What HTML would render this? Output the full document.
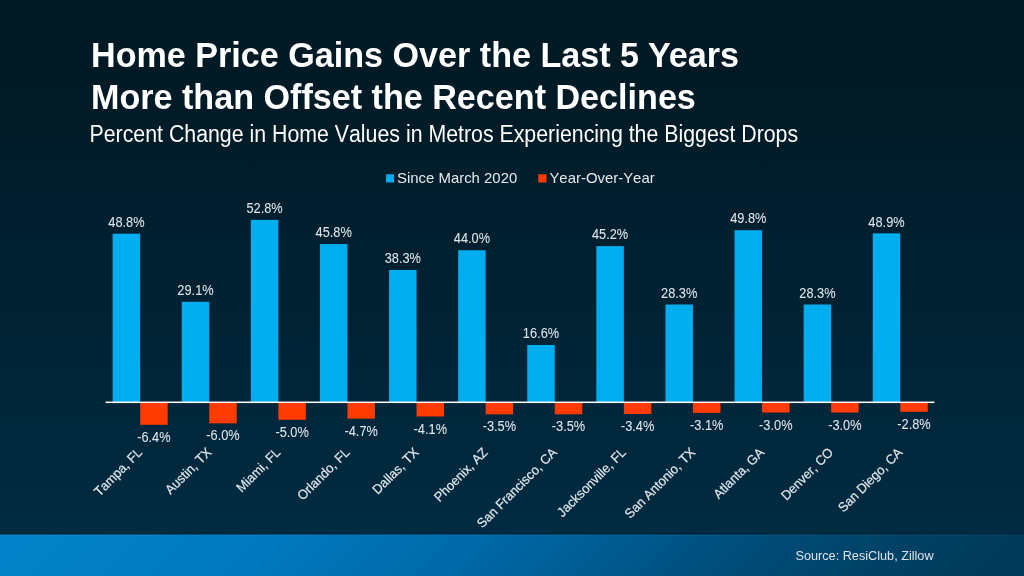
<!DOCTYPE html>
<html><head><meta charset="utf-8">
<style>
html,body{margin:0;padding:0;}
body{width:1024px;height:576px;overflow:hidden;position:relative;
background:linear-gradient(180deg,#011923 0px,#001c28 140px,#001e2d 185px,#002030 270px,#00263a 400px,#002b41 533px);
font-family:"Liberation Sans",sans-serif;font-kerning:none;}
svg{position:absolute;left:0;top:0;will-change:transform;}
.t{font-weight:bold;font-size:34.13px;fill:#fff;font-kerning:normal;}
.st{font-size:21.33px;fill:#fff;}
.lg{font-size:14.93px;fill:#e6e9ec;}
.dl{font-size:12.8px;fill:#dfe4ea;text-anchor:middle;stroke:#dfe4ea;stroke-width:0.05px;}
.cat{font-size:12.8px;fill:#dfe4ea;text-anchor:end;stroke:#dfe4ea;stroke-width:0.2px;}
.src{font-size:12.7px;fill:#dde3ea;text-anchor:end;}
</style></head><body>
<svg width="1024" height="576" viewBox="0 0 1024 576">
<defs>
<linearGradient id="band" gradientUnits="userSpaceOnUse" x1="0" y1="534" x2="533" y2="1067">
<stop offset="0.039" stop-color="#0282c8"/>
<stop offset="0.255" stop-color="#0079bf"/>
<stop offset="0.49" stop-color="#0066a3"/>
<stop offset="0.724" stop-color="#004b77"/>
<stop offset="0.959" stop-color="#003a58"/>
</linearGradient>
</defs>
<rect x="0" y="533" width="1024" height="1.5" fill="#00243a"/>
<rect x="0" y="534.5" width="1024" height="41.5" fill="url(#band)"/>
<rect x="0" y="535" width="1024" height="1" fill="#ffffff" fill-opacity="0.035"/>
<text class="t" transform="translate(91.00 66.80) scale(1 1.05)">Home Price Gains Over the Last 5 Years</text>
<text class="t" transform="translate(91.00 108.90) scale(1 1.05)">More than Offset the Recent Declines</text>
<text class="st" transform="translate(89.50 142.10) scale(1 1.08)">Percent Change in Home Values in Metros Experiencing the Biggest Drops</text>
<rect x="386" y="174.3" width="8" height="8.2" fill="#00adee"/>
<text class="lg" transform="translate(397.00 183.00) scale(1 1.04)">Since March 2020</text>
<rect x="538.3" y="174.3" width="8.2" height="8.2" fill="#ff3b00"/>
<text class="lg" transform="translate(549.40 183.00) scale(1 1.04)">Year-Over-Year</text>
<rect x="112.65" y="233.70" width="27.50" height="168.60" fill="#00adee"/>
<rect x="140.15" y="402.30" width="27.50" height="22.50" fill="#ff3b00"/>
<text class="dl" transform="translate(126.40 226.90) scale(1 1.09)">48.8%</text>
<text class="dl" transform="translate(153.90 441.80) scale(1 1.09)">-6.4%</text>
<text class="cat" transform="translate(143.15 453.30) rotate(-45) scale(1 1.04)">Tampa, FL</text>
<rect x="181.75" y="301.76" width="27.50" height="100.54" fill="#00adee"/>
<rect x="209.25" y="402.30" width="27.50" height="21.06" fill="#ff3b00"/>
<text class="dl" transform="translate(195.50 294.96) scale(1 1.09)">29.1%</text>
<text class="dl" transform="translate(223.00 440.36) scale(1 1.09)">-6.0%</text>
<text class="cat" transform="translate(212.25 453.30) rotate(-45) scale(1 1.04)">Austin, TX</text>
<rect x="250.85" y="219.88" width="27.50" height="182.42" fill="#00adee"/>
<rect x="278.35" y="402.30" width="27.50" height="17.45" fill="#ff3b00"/>
<text class="dl" transform="translate(264.60 213.08) scale(1 1.09)">52.8%</text>
<text class="dl" transform="translate(292.10 436.75) scale(1 1.09)">-5.0%</text>
<text class="cat" transform="translate(281.35 453.30) rotate(-45) scale(1 1.04)">Miami, FL</text>
<rect x="319.95" y="244.06" width="27.50" height="158.24" fill="#00adee"/>
<rect x="347.45" y="402.30" width="27.50" height="16.37" fill="#ff3b00"/>
<text class="dl" transform="translate(333.70 237.26) scale(1 1.09)">45.8%</text>
<text class="dl" transform="translate(361.20 435.67) scale(1 1.09)">-4.7%</text>
<text class="cat" transform="translate(350.45 453.30) rotate(-45) scale(1 1.04)">Orlando, FL</text>
<rect x="389.05" y="269.97" width="27.50" height="132.33" fill="#00adee"/>
<rect x="416.55" y="402.30" width="27.50" height="14.20" fill="#ff3b00"/>
<text class="dl" transform="translate(402.80 263.17) scale(1 1.09)">38.3%</text>
<text class="dl" transform="translate(430.30 433.50) scale(1 1.09)">-4.1%</text>
<text class="cat" transform="translate(419.55 453.30) rotate(-45) scale(1 1.04)">Dallas, TX</text>
<rect x="458.15" y="250.28" width="27.50" height="152.02" fill="#00adee"/>
<rect x="485.65" y="402.30" width="27.50" height="12.03" fill="#ff3b00"/>
<text class="dl" transform="translate(471.90 243.48) scale(1 1.09)">44.0%</text>
<text class="dl" transform="translate(499.40 431.33) scale(1 1.09)">-3.5%</text>
<text class="cat" transform="translate(488.65 453.30) rotate(-45) scale(1 1.04)">Phoenix, AZ</text>
<rect x="527.25" y="344.95" width="27.50" height="57.35" fill="#00adee"/>
<rect x="554.75" y="402.30" width="27.50" height="12.03" fill="#ff3b00"/>
<text class="dl" transform="translate(541.00 338.15) scale(1 1.09)">16.6%</text>
<text class="dl" transform="translate(568.50 431.33) scale(1 1.09)">-3.5%</text>
<text class="cat" transform="translate(557.75 453.30) rotate(-45) scale(1 1.04)">San Francisco, CA</text>
<rect x="596.35" y="246.13" width="27.50" height="156.17" fill="#00adee"/>
<rect x="623.85" y="402.30" width="27.50" height="11.67" fill="#ff3b00"/>
<text class="dl" transform="translate(610.10 239.33) scale(1 1.09)">45.2%</text>
<text class="dl" transform="translate(637.60 430.97) scale(1 1.09)">-3.4%</text>
<text class="cat" transform="translate(626.85 453.30) rotate(-45) scale(1 1.04)">Jacksonville, FL</text>
<rect x="665.45" y="304.52" width="27.50" height="97.78" fill="#00adee"/>
<rect x="692.95" y="402.30" width="27.50" height="10.59" fill="#ff3b00"/>
<text class="dl" transform="translate(679.20 297.72) scale(1 1.09)">28.3%</text>
<text class="dl" transform="translate(706.70 429.89) scale(1 1.09)">-3.1%</text>
<text class="cat" transform="translate(695.95 453.30) rotate(-45) scale(1 1.04)">San Antonio, TX</text>
<rect x="734.55" y="230.24" width="27.50" height="172.06" fill="#00adee"/>
<rect x="762.05" y="402.30" width="27.50" height="10.23" fill="#ff3b00"/>
<text class="dl" transform="translate(748.30 223.44) scale(1 1.09)">49.8%</text>
<text class="dl" transform="translate(775.80 429.53) scale(1 1.09)">-3.0%</text>
<text class="cat" transform="translate(765.05 453.30) rotate(-45) scale(1 1.04)">Atlanta, GA</text>
<rect x="803.65" y="304.52" width="27.50" height="97.78" fill="#00adee"/>
<rect x="831.15" y="402.30" width="27.50" height="10.23" fill="#ff3b00"/>
<text class="dl" transform="translate(817.40 297.72) scale(1 1.09)">28.3%</text>
<text class="dl" transform="translate(844.90 429.53) scale(1 1.09)">-3.0%</text>
<text class="cat" transform="translate(834.15 453.30) rotate(-45) scale(1 1.04)">Denver, CO</text>
<rect x="872.75" y="233.35" width="27.50" height="168.95" fill="#00adee"/>
<rect x="900.25" y="402.30" width="27.50" height="9.51" fill="#ff3b00"/>
<text class="dl" transform="translate(886.50 226.55) scale(1 1.09)">48.9%</text>
<text class="dl" transform="translate(914.00 428.81) scale(1 1.09)">-2.8%</text>
<text class="cat" transform="translate(903.25 453.30) rotate(-45) scale(1 1.04)">San Diego, CA</text>
<rect x="105.60" y="401.55" width="828.8" height="1.5" fill="#ffffff"/>
<text class="src" transform="translate(933.60 559.90) scale(1 1.04)">Source: ResiClub, Zillow</text>
</svg>
</body></html>
